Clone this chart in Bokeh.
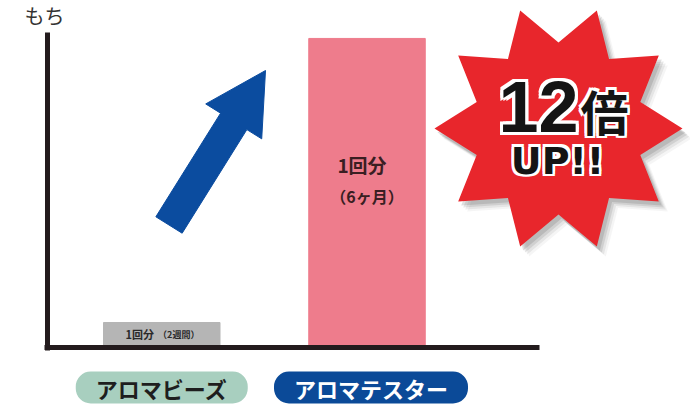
import math
from bokeh.plotting import figure
from bokeh.models import Range1d, LinearAxis, Label, ColumnDataSource, FixedTicker
from bokeh.core.properties import value
from bokeh.embed import file_html
from bokeh.resources import INLINE

# ---------------- data ----------------
categories = ["アロマビーズ", "アロマテスター"]
durations = ["2週間", "6ヶ月"]
mochi = [1.0, 13.35]            # relative lasting time (bar heights)
bar_text = ["1回分", "1回分"]
y_label = "もち"
badge_main = "12"
badge_unit = "倍"
badge_sub = "UP!!"

bar_colors = ["#b5b5b5", "#ee7c8c"]
pill_colors = ["#a8cfbf", "#0b4a98"]
pill_text_colors = ["#1e1e1e", "#ffffff"]

JP = "Noto Sans CJK JP"
W, H = 690, 404

# pixel -> data helpers for layout placement
PX0, PXU = 161.25, 205.25
PY0, PYU = 345.0, 23.0
def X(ix):
    return (ix - PX0) / PXU
def Y(iy):
    return (PY0 - iy) / PYU

p = figure(width=W, height=H, output_backend="svg", toolbar_location=None,
           x_range=Range1d(X(0), X(W)), y_range=Range1d(Y(H), Y(0)),
           x_axis_type=None, y_axis_type=None, min_border=0,
           outline_line_color=None, background_fill_color="white",
           border_fill_color="white")

# ---------------- bars ----------------
xs = list(range(len(categories)))
src = ColumnDataSource(dict(x=xs, top=mochi, color=bar_colors))
p.vbar(x="x", top="top", bottom=0, width=116.5 / PXU, color="color", source=src)

# ---------------- axes ----------------
axis_color = "#231b1d"
yax = LinearAxis(fixed_location=X(46.5), bounds=(Y(349.5), Y(32)),
                 ticker=FixedTicker(ticks=[]), axis_line_width=5,
                 axis_line_color=axis_color, major_tick_line_color=None,
                 minor_tick_line_color=None)
p.add_layout(yax, "left")
xax = LinearAxis(fixed_location=Y(347), bounds=(X(44), X(539)),
                 ticker=FixedTicker(ticks=[]), axis_line_width=5,
                 axis_line_color=axis_color, major_tick_line_color=None,
                 minor_tick_line_color=None)
p.add_layout(xax, "below")

# y label
p.text(x=[X(44)], y=[Y(15)], text=[y_label], text_font=value(JP),
       text_font_size="20px", text_color="#333333", text_align="center",
       text_baseline="middle")

# ---------------- bar texts ----------------
p.text(x=[0], y=[mochi[0] / 2], text=[bar_text[0]], x_offset=-22,
       text_font=value(JP), text_font_size="11px", text_font_style="bold",
       text_color="#2a2a2a", text_align="center", text_baseline="middle")
p.text(x=[0], y=[mochi[0] / 2], text=["（" + durations[0] + "）"], x_offset=17,
       text_font=value(JP), text_font_size="9px", text_font_style="bold",
       text_color="#2a2a2a", text_align="center", text_baseline="middle")
p.text(x=[1], y=[Y(164)], text=[bar_text[1]], x_offset=-5,
       text_font=value(JP), text_font_size="19px", text_font_style="bold",
       text_color="#3a1e22", text_align="center", text_baseline="middle")
p.text(x=[1], y=[Y(195)], text=["（" + durations[1] + "）"], x_offset=0,
       text_font=value(JP), text_font_size="16px", text_font_style="bold",
       text_color="#3a1e22", text_align="center", text_baseline="middle")

# ---------------- arrow ----------------
tail = (168.5, 224.5)
tip = (265.0, 70.0)
L = math.hypot(tip[0] - tail[0], tip[1] - tail[1])
ux, uy = (tip[0] - tail[0]) / L, (tip[1] - tail[1]) / L
nx, ny = -uy, ux
sw, hw, hl = 15.5, 33.0, 60.0
bx, by = tip[0] - ux * hl, tip[1] - uy * hl
apts = [
    (tail[0] + nx * sw, tail[1] + ny * sw),
    (bx + nx * sw, by + ny * sw),
    (bx + nx * hw, by + ny * hw),
    tip,
    (bx - nx * hw, by - ny * hw),
    (bx - nx * sw, by - ny * sw),
    (tail[0] - nx * sw, tail[1] - ny * sw),
]
p.patch([X(a) for a, b in apts], [Y(b) for a, b in apts], color="#0b4c9f")

# ---------------- star badge ----------------
cx, cy, ro, ri = 558.0, 128.0, 124.0, 86.0
def star(dx=0.0, dy=0.0):
    sx, sy = [], []
    for k in range(20):
        a = math.radians(k * 18)
        r = ro if k % 2 else ri
        sx.append(X(cx + dx + r * math.sin(a)))
        sy.append(Y(cy + dy - r * math.cos(a)))
    return sx, sy

for off, al in [(9, 0.06), (7, 0.10), (5, 0.14), (3, 0.18)]:
    sx, sy = star(off, off + 1)
    p.patch(sx, sy, color="#555555", alpha=al, line_color=None)
sx, sy = star()
p.patch(sx, sy, color="#e8262c", line_color=None)

def outlined(tx, ty, txt, font, size, align, w=2.5):
    for ox in (-w, 0, w):
        for oy in (-w, 0, w):
            if ox == 0 and oy == 0:
                continue
            p.text(x=[tx], y=[ty], text=[txt], x_offset=ox, y_offset=oy,
                   text_font=value(font), text_font_size=size,
                   text_font_style="bold", text_color="white",
                   text_align=align, text_baseline="middle")
    p.text(x=[tx], y=[ty], text=[txt], text_font=value(font),
           text_font_size=size, text_font_style="bold", text_color="#141414",
           text_align=align, text_baseline="middle")

outlined(X(578), Y(106), badge_main, "Liberation Sans", "72px", "right", 3)
outlined(X(580), Y(109), badge_unit, JP, "48px", "left", 2.5)
outlined(X(557), Y(160), badge_sub, "DejaVu Sans", "38px", "center", 2.5)

# ---------------- category pills ----------------
for i, cat in enumerate(categories):
    p.add_layout(Label(x=xs[i], y=Y(387), text=cat, x_offset=(0 if i == 0 else 4),
                       text_align="center", text_baseline="middle",
                       text_font=JP, text_font_size="22px", text_font_style="bold",
                       text_color=pill_text_colors[i],
                       background_fill_color=pill_colors[i],
                       border_radius=15,
                       padding=dict(left=20, right=20, top=0, bottom=0)))

open("out.html", "w").write(file_html(p, INLINE))
